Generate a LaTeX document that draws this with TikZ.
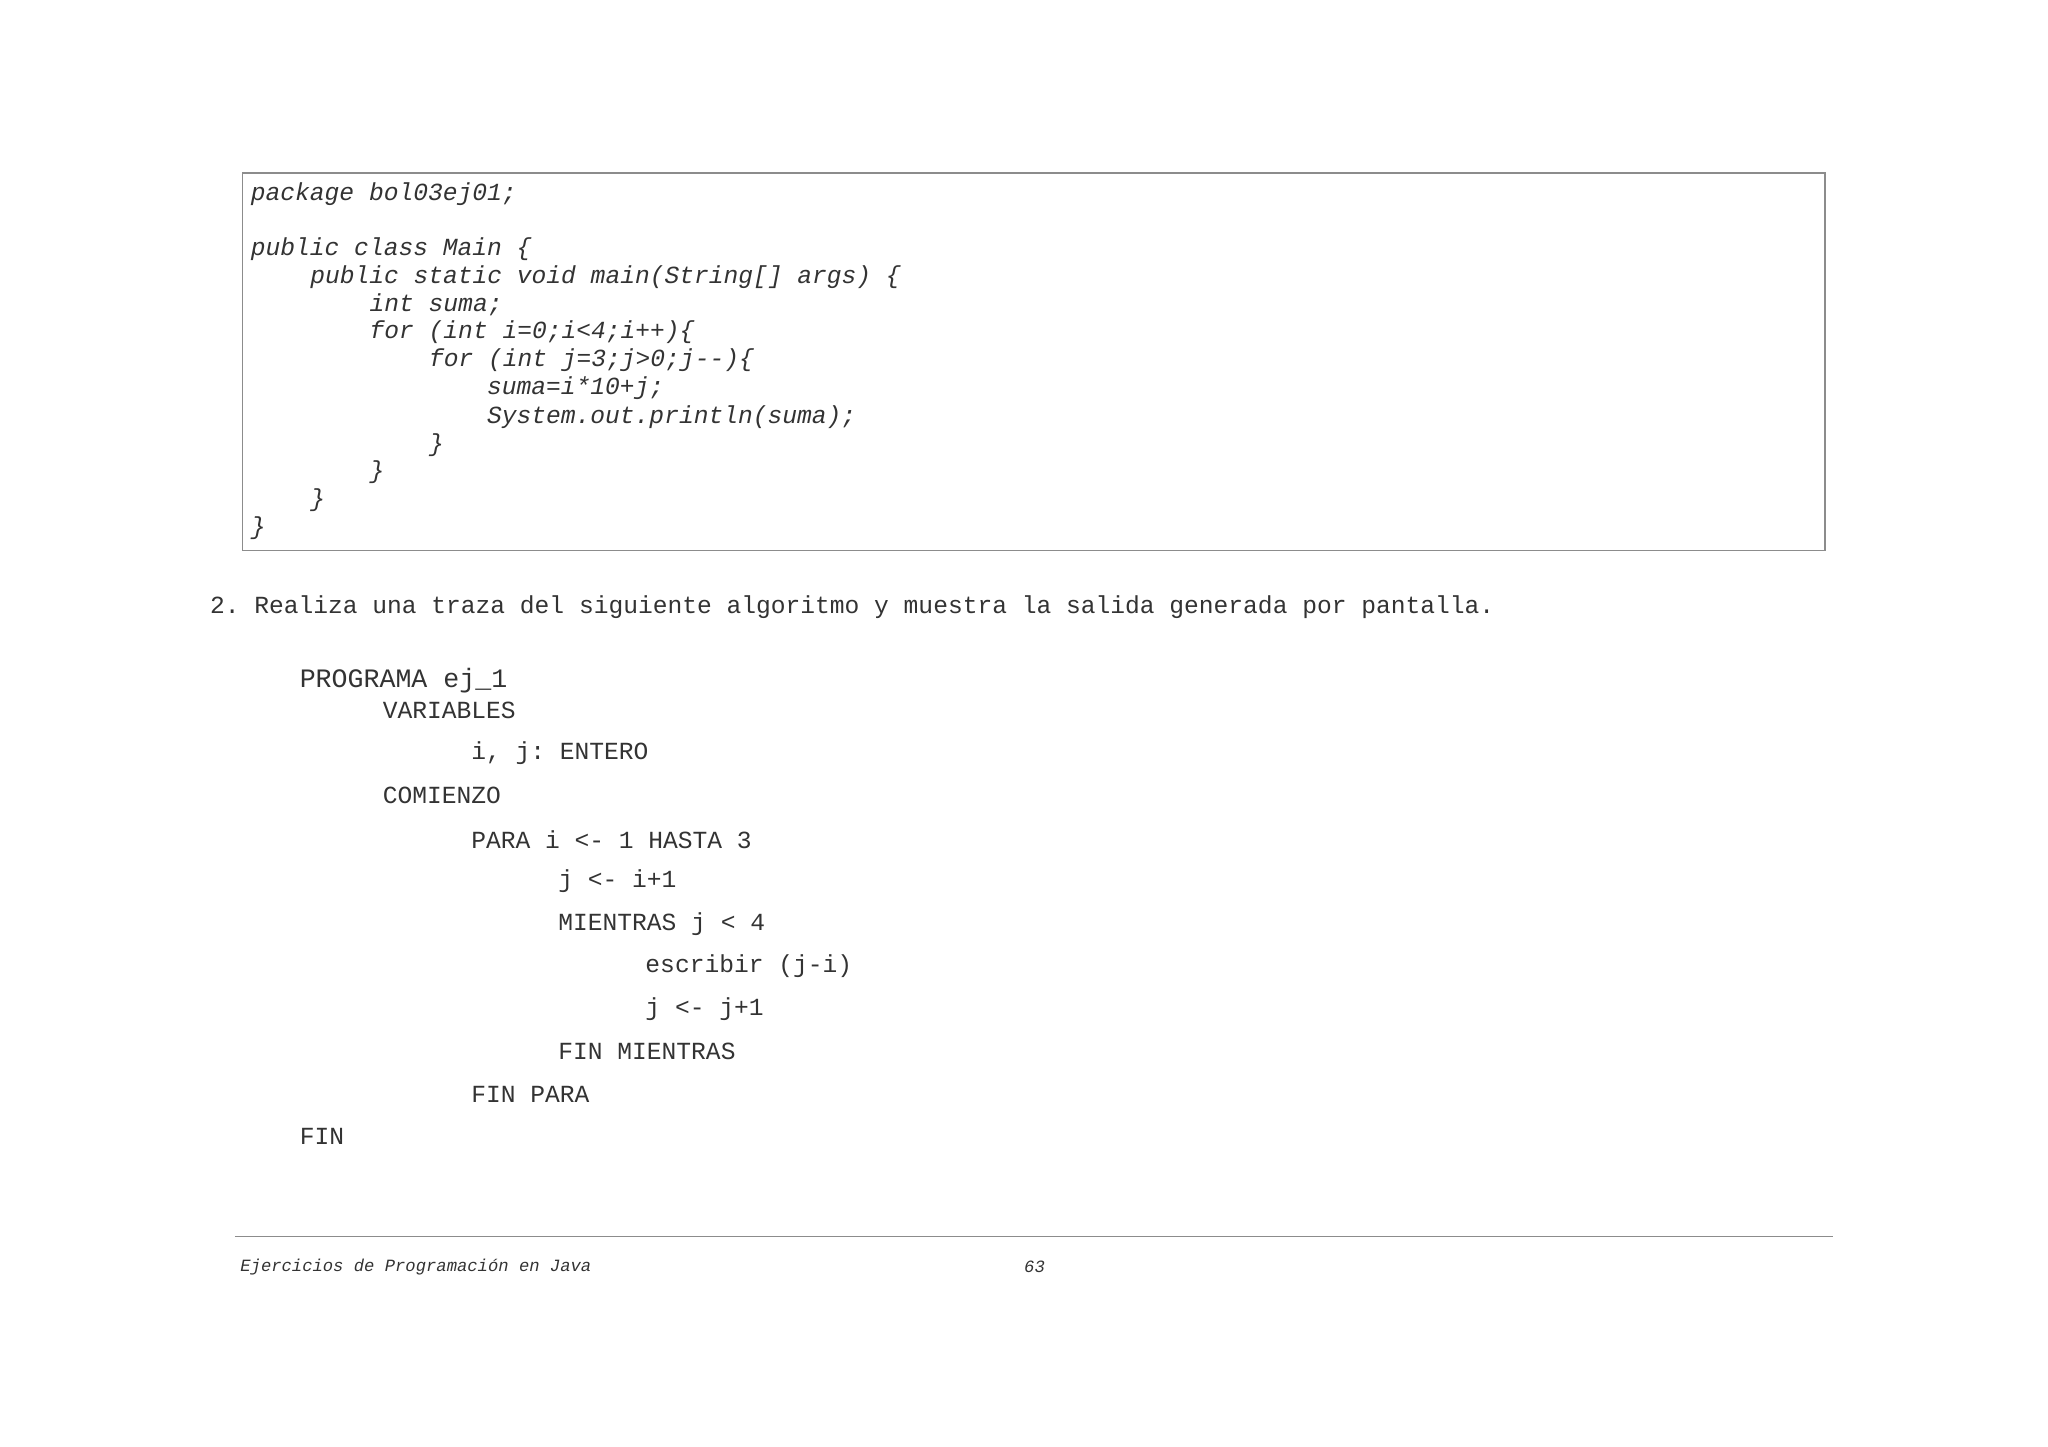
\documentclass[tikz,border=0pt]{standalone}
\usepackage{fontspec}
\setmonofont{Liberation Mono}
\begin{document}
\begin{tikzpicture}[x=1.3196pt,y=-1.3196pt,
  code/.style={anchor=west,inner sep=0pt,text=black!80,font=\ttfamily\itshape\fontsize{24.6}{28}\selectfont},
  alg/.style={anchor=west,inner sep=0pt,text=black!80,font=\ttfamily\fontsize{24.6}{28}\selectfont}]
\useasboundingbox (0,0) rectangle (1552,1096.5);
\draw[black!45,line width=1.3pt] (184,131) rectangle (1383,417);
\node[code] (c1) at (190,147) {package bol03ej01;};
\node[code] (c2) at (190,189) {public class Main \{};
\node[code] (c3) at (235,210) {public static void main(String[] args) \{};
\node[code] (c4) at (280,231) {int suma;};
\node[code] (c5) at (280,252) {for (int i=0;i<4;i++)\{};
\node[code] (c6) at (325,273) {for (int j=3;j>0;j--)\{};
\node[code] (c7) at (369,294) {suma=i*10+j;};
\node[code] (c8) at (369,316) {System.out.println(suma);};
\node[code] (c9) at (325,337) {\}};
\node[code] (c10) at (280,358) {\}};
\node[code] (c11) at (235,379) {\}};
\node[code] (c12) at (190,400) {\}};
\node[alg] (q) at (159,460) {2. Realiza una traza del siguiente algoritmo y muestra la salida generada por pantalla.};
\node[alg,font=\ttfamily\fontsize{26.6}{30}\selectfont] (a0) at (227,516) {PROGRAMA ej\_1};
\node[alg] (a1) at (290,538) {VARIABLES};
\node[alg] (a2) at (357,571) {i, j: ENTERO};
\node[alg] (a3) at (290,603) {COMIENZO};
\node[alg] (a4) at (357,636) {PARA i <- 1 HASTA 3};
\node[alg] (a5) at (423,668) {j <- i+1};
\node[alg] (a6) at (423,700) {MIENTRAS j < 4};
\node[alg] (a7) at (489,732) {escribir (j-i)};
\node[alg] (a8) at (489,765) {j <- j+1};
\node[alg] (a9) at (423,797) {FIN MIENTRAS};
\node[alg] (a10) at (357,829) {FIN PARA};
\node[alg] (a11) at (227,861) {FIN};
\draw[black!45,line width=1.3pt] (178,937) -- (1389,937);
\node[code,font=\ttfamily\itshape\fontsize{17.2}{20}\selectfont] (f1) at (182,960) {Ejercicios de Programación en Java};
\node[code,font=\ttfamily\itshape\fontsize{17.2}{20}\selectfont] (f2) at (776,960) {63};
\end{tikzpicture}
\end{document}
